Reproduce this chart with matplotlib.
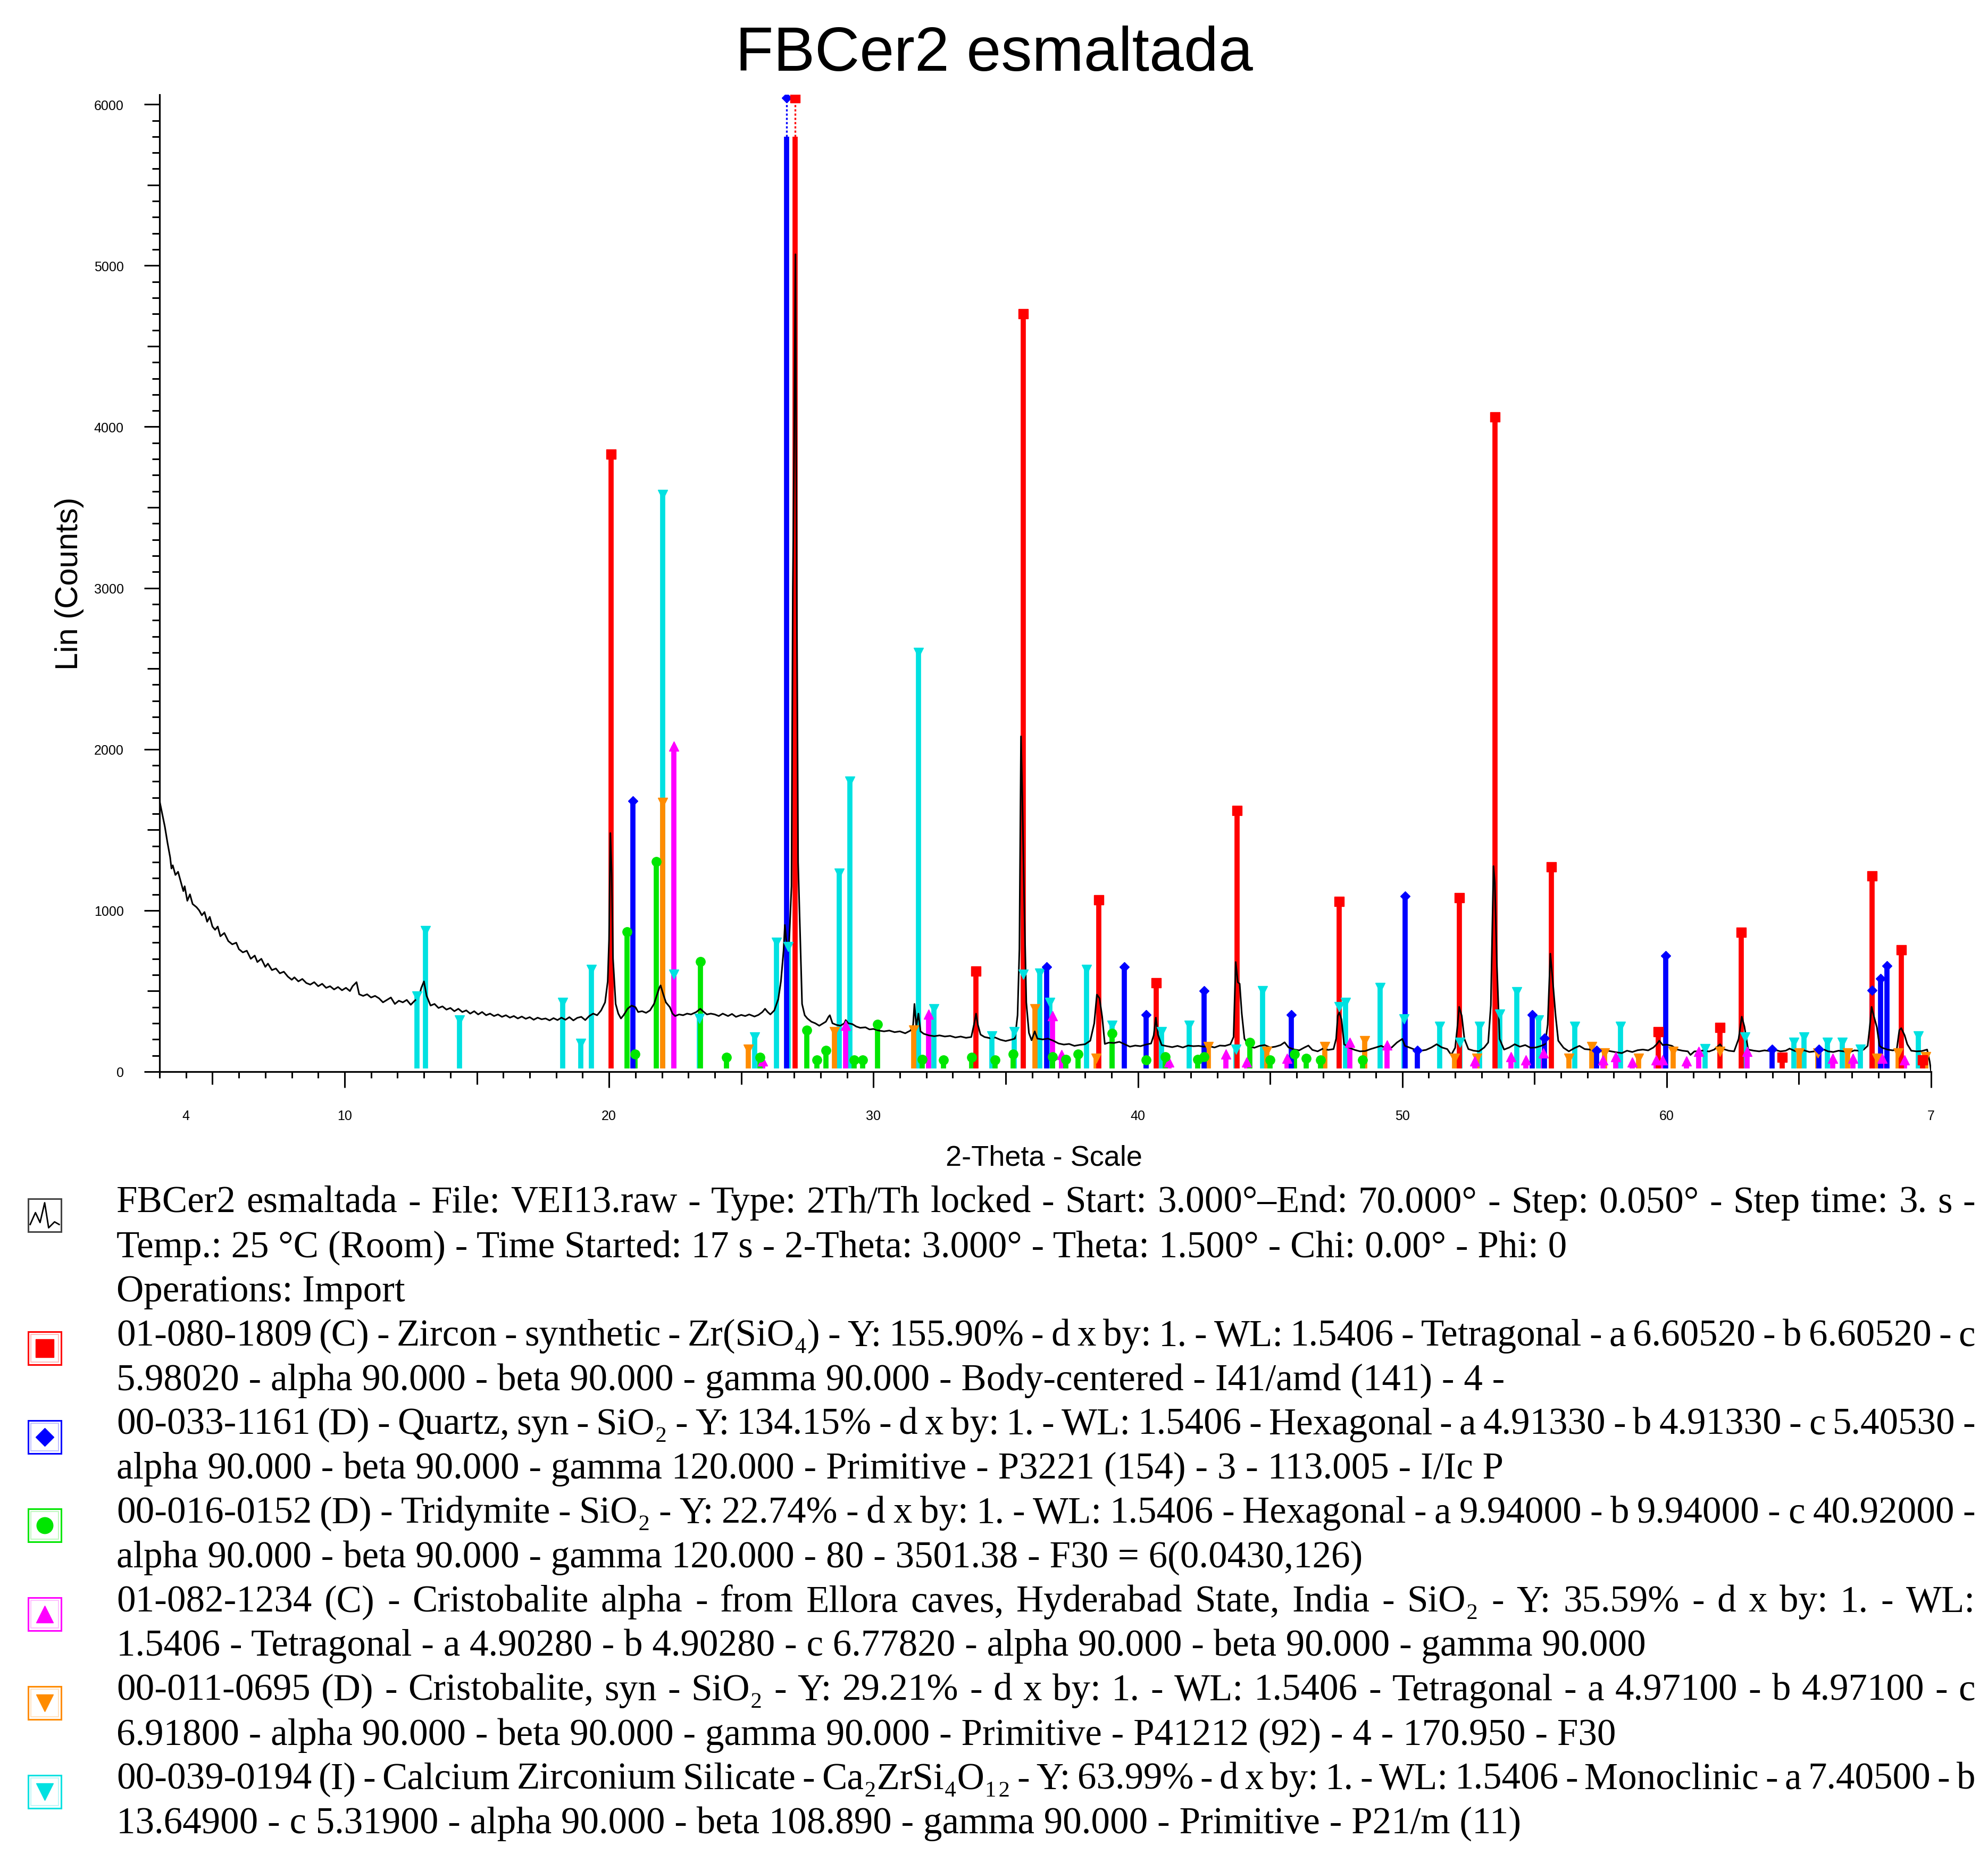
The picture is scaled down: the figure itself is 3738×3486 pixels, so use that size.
import matplotlib.pyplot as plt
from matplotlib.patches import Rectangle
from matplotlib.ticker import FixedLocator, FixedFormatter, MultipleLocator

W, H, DPI = 3738, 3487, 100
SANS = ['Liberation Sans', 'DejaVu Sans']
SERIF = ['Liberation Serif', 'DejaVu Serif']

scan = [
    (3.0, 1680), (3.1, 1600), (3.2, 1520), (3.3, 1420), (3.4, 1330), (3.45, 1260), (3.5, 1280),
    (3.6, 1220), (3.7, 1240), (3.8, 1180), (3.9, 1120), (3.95, 1150), (4.05, 1060), (4.15, 1100),
    (4.25, 1040), (4.4, 1020), (4.5, 1000), (4.6, 970), (4.7, 990), (4.8, 930), (4.9, 960),
    (5.0, 900), (5.1, 880), (5.2, 900), (5.3, 840), (5.45, 860), (5.6, 810), (5.75, 790),
    (5.9, 800), (6.0, 760), (6.15, 740), (6.3, 750), (6.45, 700), (6.6, 720), (6.7, 680),
    (6.85, 700), (7.0, 650), (7.1, 670), (7.25, 630), (7.4, 640), (7.55, 610), (7.7, 620),
    (7.85, 590), (8.0, 570), (8.1, 585), (8.25, 560), (8.4, 575), (8.55, 550), (8.7, 540),
    (8.85, 555), (9.0, 530), (9.15, 545), (9.3, 520), (9.45, 530), (9.6, 510), (9.75, 525),
    (9.9, 505), (10.05, 520), (10.2, 500), (10.3, 530), (10.45, 555), (10.55, 480), (10.7, 470),
    (10.85, 480), (11.0, 460), (11.15, 470), (11.3, 455), (11.45, 430), (11.6, 445), (11.75, 460),
    (11.9, 420), (12.05, 440), (12.2, 430), (12.35, 445), (12.5, 415), (12.65, 440), (12.8, 460),
    (12.9, 520), (13.0, 560), (13.1, 470), (13.25, 410), (13.4, 420), (13.55, 395), (13.7, 405),
    (13.85, 385), (14.0, 395), (14.15, 375), (14.3, 390), (14.45, 370), (14.6, 380), (14.75, 360),
    (14.9, 375), (15.05, 355), (15.2, 370), (15.35, 350), (15.5, 360), (15.65, 345), (15.8, 355),
    (15.95, 340), (16.1, 350), (16.25, 335), (16.4, 345), (16.55, 330), (16.7, 342), (16.85, 328),
    (17.0, 338), (17.15, 322), (17.3, 335), (17.45, 325), (17.6, 330), (17.75, 318), (17.9, 332),
    (18.05, 320), (18.2, 335), (18.35, 322), (18.5, 338), (18.65, 318), (18.8, 334), (18.95, 340),
    (19.1, 320), (19.25, 345), (19.4, 360), (19.55, 350), (19.7, 380), (19.85, 430), (19.95, 560),
    (20.0, 820), (20.05, 1480), (20.1, 1230), (20.15, 700), (20.25, 420), (20.35, 360),
    (20.45, 330), (20.55, 350), (20.7, 390), (20.85, 410), (21.0, 400), (21.1, 370), (21.25, 375),
    (21.4, 365), (21.55, 380), (21.7, 420), (21.8, 470), (21.9, 520), (21.95, 535), (22.05, 480),
    (22.15, 430), (22.3, 400), (22.4, 360), (22.5, 345), (22.65, 355), (22.8, 350), (22.95, 360),
    (23.1, 355), (23.3, 370), (23.45, 390), (23.55, 375), (23.7, 355), (23.85, 360), (24.0, 355),
    (24.15, 345), (24.3, 360), (24.5, 345), (24.65, 358), (24.8, 340), (25.0, 352), (25.15, 345),
    (25.3, 355), (25.5, 342), (25.65, 352), (25.8, 370), (25.9, 390), (26.0, 370), (26.1, 355),
    (26.25, 380), (26.4, 450), (26.5, 560), (26.6, 750), (26.65, 910), (26.7, 820), (26.8, 760),
    (26.9, 1150), (26.95, 3000), (27.0, 3900), (27.05, 5070), (27.1, 2960), (27.15, 1300),
    (27.25, 720), (27.3, 420), (27.4, 350), (27.5, 330), (27.65, 310), (27.8, 300), (27.95, 285),
    (28.1, 300), (28.2, 310), (28.3, 340), (28.35, 350), (28.45, 300), (28.6, 290), (28.75, 285),
    (28.9, 300), (28.95, 320), (29.05, 300), (29.2, 295), (29.35, 280), (29.5, 272), (29.7, 275),
    (29.85, 262), (30.0, 265), (30.2, 255), (30.4, 250), (30.6, 255), (30.8, 245), (31.0, 250),
    (31.2, 238), (31.4, 255), (31.5, 290), (31.55, 420), (31.62, 280), (31.7, 360), (31.78, 250),
    (31.9, 235), (32.1, 225), (32.3, 220), (32.5, 225), (32.7, 218), (32.9, 222), (33.1, 212),
    (33.3, 218), (33.5, 210), (33.7, 215), (33.8, 290), (33.88, 360), (33.95, 290), (34.05, 230),
    (34.2, 215), (34.4, 208), (34.6, 212), (34.8, 198), (35.0, 190), (35.2, 198), (35.35, 205),
    (35.45, 350), (35.52, 760), (35.58, 2080), (35.63, 1710), (35.7, 1070), (35.78, 430),
    (35.88, 240), (35.98, 195), (36.1, 250), (36.2, 205), (36.4, 200), (36.6, 205), (36.8, 192),
    (37.0, 175), (37.2, 168), (37.4, 172), (37.6, 160), (37.8, 166), (38.0, 170), (38.2, 192),
    (38.35, 300), (38.45, 478), (38.55, 455), (38.65, 340), (38.75, 172), (38.9, 180), (39.1, 178),
    (39.3, 185), (39.5, 170), (39.7, 155), (39.9, 162), (40.1, 158), (40.3, 168), (40.5, 175),
    (40.6, 225), (40.68, 335), (40.76, 230), (40.9, 165), (41.1, 158), (41.3, 152), (41.5, 160),
    (41.7, 150), (41.9, 162), (42.1, 158), (42.3, 160), (42.5, 155), (42.7, 158), (42.9, 150),
    (43.1, 162), (43.3, 160), (43.5, 170), (43.62, 215), (43.7, 680), (43.78, 555), (43.85, 545),
    (43.93, 360), (44.03, 205), (44.2, 160), (44.4, 148), (44.6, 160), (44.8, 165), (45.0, 150),
    (45.2, 155), (45.4, 165), (45.55, 182), (45.7, 150), (45.9, 138), (46.1, 132), (46.3, 150),
    (46.45, 162), (46.6, 135), (46.8, 126), (47.0, 143), (47.2, 135), (47.4, 140), (47.5, 205),
    (47.56, 346), (47.62, 368), (47.7, 324), (47.8, 170), (48.0, 148), (48.2, 135), (48.4, 126),
    (48.6, 128), (48.8, 140), (49.0, 150), (49.2, 160), (49.4, 145), (49.6, 150), (49.8, 181),
    (50.0, 203), (50.1, 160), (50.3, 148), (50.5, 135), (50.7, 130), (50.9, 135), (51.1, 150),
    (51.3, 170), (51.5, 150), (51.7, 140), (51.85, 104), (52.0, 148), (52.08, 270), (52.15, 402),
    (52.25, 346), (52.35, 203), (52.5, 140), (52.7, 130), (52.9, 126), (53.1, 150), (53.25, 181),
    (53.35, 412), (53.45, 1275), (53.5, 1170), (53.58, 654), (53.68, 203), (53.85, 137),
    (54.05, 150), (54.25, 170), (54.45, 155), (54.65, 165), (54.85, 148), (55.05, 150),
    (55.25, 160), (55.4, 170), (55.5, 292), (55.6, 732), (55.7, 545), (55.8, 346), (55.9, 192),
    (56.1, 148), (56.3, 126), (56.5, 145), (56.7, 160), (56.9, 140), (57.1, 137), (57.3, 130),
    (57.5, 126), (57.7, 132), (57.9, 126), (58.1, 120), (58.3, 115), (58.5, 130), (58.7, 122),
    (58.9, 133), (59.1, 137), (59.3, 132), (59.5, 150), (59.62, 170), (59.72, 192), (59.85, 165),
    (60.0, 168), (60.2, 160), (60.4, 137), (60.6, 130), (60.8, 126), (60.9, 104), (61.05, 126),
    (61.2, 126), (61.4, 132), (61.6, 125), (61.8, 137), (61.95, 160), (62.02, 170), (62.15, 140),
    (62.35, 130), (62.55, 126), (62.72, 203), (62.84, 341), (62.94, 280), (63.08, 137),
    (63.3, 130), (63.5, 126), (63.7, 132), (63.9, 128), (64.1, 135), (64.3, 126), (64.5, 130),
    (64.65, 143), (64.85, 128), (65.0, 126), (65.2, 132), (65.4, 122), (65.6, 126), (65.8, 130),
    (65.95, 137), (66.1, 126), (66.3, 122), (66.5, 130), (66.7, 126), (66.9, 120), (67.1, 132),
    (67.3, 130), (67.45, 137), (67.6, 160), (67.67, 260), (67.75, 402), (67.85, 335), (67.95, 275),
    (68.05, 160), (68.15, 148), (68.35, 137), (68.55, 132), (68.7, 137), (68.8, 258), (68.87, 270),
    (69.0, 225), (69.1, 170), (69.25, 130), (69.45, 126), (69.65, 128), (69.85, 137), (69.95, 60),
    (70.0, 0),
]
scan_2theta = [p[0] for p in scan]
scan_counts = [p[1] for p in scan]

# reference patterns (stick positions and heights)
zircon_2theta = [20.08, 27.04, 33.87, 35.66, 38.53, 40.69, 43.75, 47.62, 52.16, 53.5, 55.64,
                 59.68, 62.01, 62.82, 64.36, 67.76, 68.87, 69.68]
zircon_counts = [3830, 6040, 622, 4700, 1067, 550, 1620, 1056, 1078, 4060, 1270,
                 248, 275, 863, 88, 1215, 754, 71]

quartz_2theta = [20.9, 26.72, 36.55, 39.48, 40.32, 42.5, 45.81, 50.1, 50.56, 54.92, 55.37,
                 57.34, 59.97, 63.99, 65.75, 67.76, 68.09, 68.33]
quartz_counts = [1680, 6040, 649, 649, 352, 500, 352, 1089, 132, 352, 209,
                 132, 720, 137, 137, 506, 578, 655]

tridymite_2theta = [20.69, 20.98, 21.79, 23.46, 24.45, 25.7, 27.48, 27.86, 28.2, 29.27, 29.6,
                    30.15, 31.85, 32.65, 33.71, 34.6, 35.28, 36.77, 37.27, 37.74, 39.03, 40.32,
                    41.03, 42.26, 42.5, 44.23, 45.0, 45.93, 46.37, 46.9, 48.5]
tridymite_counts = [869, 110, 1304, 682, 88, 88, 258, 71, 132, 71, 71,
                    292, 77, 74, 88, 74, 110, 94, 77, 110, 237, 71,
                    94, 77, 94, 181, 71, 110, 83, 71, 71]

cristo_a_2theta = [22.46, 25.8, 28.94, 32.08, 36.77, 37.11, 41.17, 43.32, 44.11, 45.65, 48.02,
                   49.43, 52.75, 54.1, 54.67, 55.33, 57.58, 58.07, 58.69, 59.6, 59.85, 60.75,
                   61.22, 63.04, 66.28, 67.05, 68.14, 68.99]
cristo_a_counts = [2020, 66, 286, 357, 346, 105, 60, 110, 60, 83, 181,
                   165, 66, 94, 71, 115, 71, 94, 60, 71, 71, 66,
                   126, 126, 83, 83, 83, 71]

cristo_s_2theta = [22.03, 25.26, 28.52, 31.53, 36.11, 38.43, 42.66, 44.88, 47.06, 48.57, 51.97,
                   52.83, 56.31, 57.17, 57.66, 58.93, 60.24, 62.01, 65.02, 65.71, 66.85, 67.94,
                   68.75, 69.8]
cristo_s_counts = [1670, 137, 248, 258, 390, 83, 154, 126, 154, 192, 83,
                   83, 83, 154, 115, 83, 126, 126, 115, 115, 115, 83,
                   115, 94]

cazr_2theta = [12.74, 13.05, 14.35, 18.24, 18.93, 19.33, 22.03, 22.46, 23.41, 25.5, 26.33,
               26.77, 28.71, 29.11, 31.7, 32.28, 34.48, 35.32, 35.66, 36.29, 36.68, 38.06,
               39.03, 40.9, 41.94, 43.71, 44.72, 47.62, 47.86, 49.16, 50.06, 51.41, 52.17,
               52.93, 53.69, 54.34, 55.16, 56.53, 58.26, 61.46, 62.96, 64.82, 65.19, 66.08,
               66.65, 67.33, 69.52]
cazr_counts = [467, 875, 319, 429, 176, 632, 3580, 605, 330, 214, 803,
               775, 1232, 1800, 2600, 390, 220, 248, 605, 610, 429, 632,
               286, 248, 286, 137, 500, 402, 429, 522, 325, 280, 181,
               280, 357, 495, 319, 280, 280, 143, 214, 181, 214, 181,
               181, 137, 220]

legend_lines = [
    "FBCer2 esmaltada - File: VEI13.raw - Type: 2Th/Th locked - Start: 3.000°–End: 70.000° - Step: 0.050° - Step time: 3. s -",
    "Temp.: 25 °C (Room) - Time Started: 17 s - 2-Theta: 3.000° - Theta: 1.500° - Chi: 0.00° - Phi: 0",
    "Operations: Import",
    "01-080-1809 (C) - Zircon - synthetic - Zr(SiO₄) - Y: 155.90% - d x by: 1. - WL: 1.5406 - Tetragonal - a 6.60520 - b 6.60520 - c",
    "5.98020 - alpha 90.000 - beta 90.000 - gamma 90.000 - Body-centered - I41/amd (141) - 4 -",
    "00-033-1161 (D) - Quartz, syn - SiO₂ - Y: 134.15% - d x by: 1. - WL: 1.5406 - Hexagonal - a 4.91330 - b 4.91330 - c 5.40530 -",
    "alpha 90.000 - beta 90.000 - gamma 120.000 - Primitive - P3221 (154) - 3 - 113.005 - I/Ic P",
    "00-016-0152 (D) - Tridymite - SiO₂ - Y: 22.74% - d x by: 1. - WL: 1.5406 - Hexagonal - a 9.94000 - b 9.94000 - c 40.92000 -",
    "alpha 90.000 - beta 90.000 - gamma 120.000 - 80 - 3501.38 - F30 = 6(0.0430,126)",
    "01-082-1234 (C) - Cristobalite alpha - from Ellora caves, Hyderabad State, India - SiO₂ - Y: 35.59% - d x by: 1. - WL:",
    "1.5406 - Tetragonal - a 4.90280 - b 4.90280 - c 6.77820 - alpha 90.000 - beta 90.000 - gamma 90.000",
    "00-011-0695 (D) - Cristobalite, syn - SiO₂ - Y: 29.21% - d x by: 1. - WL: 1.5406 - Tetragonal - a 4.97100 - b 4.97100 - c",
    "6.91800 - alpha 90.000 - beta 90.000 - gamma 90.000 - Primitive - P41212 (92) - 4 - 170.950 - F30",
    "00-039-0194 (I) - Calcium Zirconium Silicate - Ca₂ZrSi₄O₁₂ - Y: 63.99% - d x by: 1. - WL: 1.5406 - Monoclinic - a 7.40500 - b",
    "13.64900 - c 5.31900 - alpha 90.000 - beta 108.890 - gamma 90.000 - Primitive - P21/m (11)",
]
justified = [True, False, False, True, False, True, False, True, False, True, False, True, False, True, False]
# right end of the unjustified lines in the reference (px), used to size the font
line_ends = {1: 2892, 2: 784, 4: 2713, 6: 2765, 8: 2947, 10: 3023, 12: 3023, 14: 2801}

RED, BLUE, GREEN = '#ff0000', '#0000ff', '#00e600'
MAGENTA, ORANGE, CYAN = '#ff00ff', '#ff8c00', '#00e1e1'

phases = [
    (cazr_2theta, cazr_counts, CYAN, 'v', 13.5),
    (cristo_s_2theta, cristo_s_counts, ORANGE, 'v', 13.5),
    (cristo_a_2theta, cristo_a_counts, MAGENTA, '^', 13.5),
    (tridymite_2theta, tridymite_counts, GREEN, 'o', 12.5),
    (quartz_2theta, quartz_counts, BLUE, 'D', 9.5),
    (zircon_2theta, zircon_counts, RED, 's', 12.5),
]
# legend order
icons = [(3, RED, 's', 24), (5, BLUE, 'D', 17), (7, GREEN, 'o', 22),
         (9, MAGENTA, '^', 23), (11, ORANGE, 'v', 23), (13, CYAN, 'v', 23)]

CLIP = 5800   # sticks above this are drawn dotted (off scale)
BASE = 20

fig = plt.figure(figsize=(W / DPI, H / DPI), dpi=DPI)
fig.patch.set_facecolor('white')

ax = fig.add_axes([300 / W, 1 - 2016 / H, 3331 / W, 1837 / H])

for pos, cts, color, marker, ms in phases:
    tops = [min(c, CLIP) for c in cts]
    ax.vlines(pos, BASE, tops, colors=color, lw=7, zorder=2)
    over = [(p, c) for p, c in zip(pos, cts) if c > CLIP]
    for p, c in over:
        ax.plot([p, p], [CLIP, c], color=color, lw=2.4, ls=(0, (1.2, 1.2)), zorder=2)
    ax.plot(pos, cts, ls='none', marker=marker, ms=ms, color=color, mec=color, zorder=4)

ax.plot(scan_2theta, scan_counts, color='black', lw=2.2, zorder=3)

ax.set_xlim(3, 70)
ax.set_ylim(0, 6060)
for s in ['top', 'right']:
    ax.spines[s].set_visible(False)
for s in ['left', 'bottom']:
    ax.spines[s].set_linewidth(2.3)
    ax.spines[s].set_zorder(5)

x_major = [4] + list(range(5, 75, 5))
x_labels = []
for v in x_major:
    if v == 4:
        x_labels.append('4')
    elif v == 70:
        x_labels.append('7')
    elif v % 10 == 0:
        x_labels.append(str(v))
    else:
        x_labels.append('')
ax.xaxis.set_major_locator(FixedLocator(x_major))
ax.xaxis.set_major_formatter(FixedFormatter(x_labels))
ax.xaxis.set_minor_locator(MultipleLocator(1))

y_major = list(range(0, 6001, 500))
y_labels = [str(v) if v % 1000 == 0 else '' for v in y_major]
ax.yaxis.set_major_locator(FixedLocator(y_major))
ax.yaxis.set_major_formatter(FixedFormatter(y_labels))
ax.yaxis.set_minor_locator(MultipleLocator(100))

ax.tick_params(axis='x', which='major', direction='out', length=17, width=2.2, pad=34, labelsize=18)
ax.tick_params(axis='x', which='minor', direction='out', length=8.6, width=2.2)
ax.tick_params(axis='y', which='major', direction='out', length=16.5, width=2.2, pad=32, labelsize=18)
ax.tick_params(axis='y', which='minor', direction='out', length=10, width=2.2)
for lab in ax.get_xticklabels() + ax.get_yticklabels():
    lab.set_family(SANS)

for tick, v in zip(ax.xaxis.get_major_ticks(), x_major):
    if v == 4:
        tick.tick1line.set_markersize(8.6)
    elif v % 10 == 0:
        tick.tick1line.set_markersize(21.6)
for tick, v in zip(ax.yaxis.get_major_ticks(), y_major):
    if v % 1000 == 0:
        tick.tick1line.set_markersize(21)

fig.text(0.5, 1 - 103 / H, 'FBCer2 esmaltada', ha='center', va='center', fontsize=84, family=SANS)
fig.text(131 / W, 1 - 1097 / H, 'Lin (Counts)', rotation=90, ha='center', va='center',
         fontsize=43, family=SANS)
fig.text(1963 / W, 1 - 2177 / H, '2-Theta - Scale', ha='center', va='center', fontsize=39, family=SANS)

# legend block, drawn in pixel coordinates
lax = fig.add_axes([0, 0, 1, 1])
lax.set_xlim(0, W)
lax.set_ylim(H, 0)
lax.axis('off')
renderer = fig.canvas.get_renderer()

X0, X1 = 219, 3714
BASE0, STEP = 2280, 83.35

probe_w = 0
target_w = 0
for i, end in line_ends.items():
    t = lax.text(0, 0, legend_lines[i], fontsize=50, family=SERIF)
    probe_w += t.get_window_extent(renderer).width
    target_w += end - X0
    t.remove()
fs = 50 * target_w / probe_w

for i, (line, just) in enumerate(zip(legend_lines, justified)):
    y = BASE0 + STEP * i
    if not just:
        lax.text(X0, y, line, fontsize=fs, family=SERIF, va='baseline', ha='left')
        continue
    words = line.split(' ')
    texts = [lax.text(X0, y, w, fontsize=fs, family=SERIF, va='baseline', ha='left') for w in words]
    widths = [t.get_window_extent(renderer).width for t in texts]
    gap = (X1 - X0 - sum(widths)) / (len(words) - 1)
    x = X0
    for t, w in zip(texts, widths):
        t.set_x(x)
        x += w + gap

ICON_X, ICON = 84, 62
# pattern icon
cy = BASE0 + 6
lax.add_patch(Rectangle((ICON_X - ICON / 2, cy - ICON / 2), ICON, ICON, fill=False,
                        ec='#444444', lw=2.2))
zig_x = [0.06, 0.22, 0.36, 0.5, 0.62, 0.8, 0.94]
zig_y = [0.78, 0.42, 0.72, 0.12, 0.88, 0.7, 0.78]
lax.plot([ICON_X - ICON / 2 + ICON * u for u in zig_x],
         [cy - ICON / 2 + ICON * v for v in zig_y], color='black', lw=2)

for line_i, color, marker, ms in icons:
    cy = BASE0 + STEP * line_i + 6
    lax.add_patch(Rectangle((ICON_X - ICON / 2, cy - ICON / 2), ICON, ICON, fill=False,
                            ec=color, lw=2.2))
    lax.add_patch(Rectangle((ICON_X - ICON / 2 + 5, cy - ICON / 2 + 5), ICON - 10, ICON - 10,
                            fill=False, ec=color, lw=1.5, alpha=0.25))
    lax.plot([ICON_X], [cy], marker=marker, ms=ms, color=color, mec=color)

fig.savefig('out.png', dpi=DPI, facecolor='white')
